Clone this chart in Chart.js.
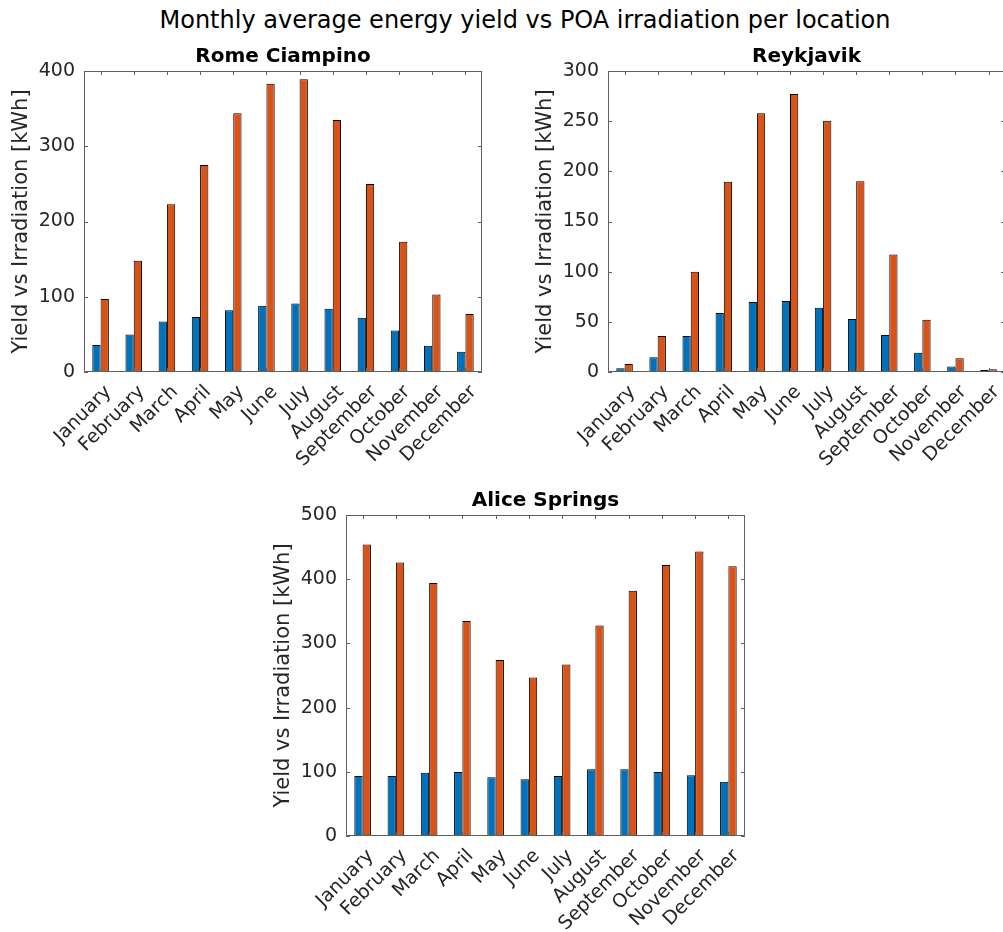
<!DOCTYPE html>
<html>
<head>
<meta charset="utf-8">
<title>Monthly average energy yield vs POA irradiation per location</title>
<script src="https://cdn.jsdelivr.net/npm/chart.js@4.4.1/dist/chart.umd.min.js"></script>
<style>
  html, body { margin: 0; padding: 0; background: #fff; overflow: hidden; }
  body { width: 1003px; height: 932px; position: relative; }
  #suptitle {
    position: absolute; left: 0; top: 8px; width: 1050px;
    text-align: center; font: 24px/24px "DejaVu Sans", sans-serif; color: #000;
    white-space: nowrap;
  }
  .panel { position: absolute; }
  .panel canvas { display: block; }
</style>
</head>
<body>
<div id="suptitle">Monthly average energy yield vs POA irradiation per location</div>
<div class="panel" id="p1" style="left:0px; top:0px;"><canvas id="c1" width="500" height="470"></canvas></div>
<div class="panel" id="p2" style="left:524px; top:0px;"><canvas id="c2" width="490" height="470"></canvas></div>
<div class="panel" id="p3" style="left:262px; top:440px;"><canvas id="c3" width="500" height="492"></canvas></div>

<script>
// Month names on the category axis
const months = ['January', 'February', 'March', 'April', 'May', 'June',
                'July', 'August', 'September', 'October', 'November', 'December'];

// Rome Ciampino: monthly energy yield and POA irradiation [kWh]
const romeYield = [36, 50, 67, 73, 82, 88, 91, 84, 72, 55, 35, 27];
const romeIrradiation = [97, 148, 223, 275, 344, 383, 389, 335, 250, 173, 103, 77];

// Reykjavik
const reykjavikYield = [3.7, 14.6, 35.8, 58.7, 69.7, 70.7, 64, 52.8, 36.8, 19.3, 5.6, 2];
const reykjavikIrradiation = [8, 36, 100, 189.5, 258, 277, 250.5, 190, 117, 52, 13.6, 2.7];

// Alice Springs
const aliceYield = [93.5, 93.5, 98.7, 99.7, 91.4, 88.3, 93.5, 103.8, 103.8, 99.7, 94.5, 84.6];
const aliceIrradiation = [454, 426, 394, 335, 274, 247, 267, 328, 382, 422, 443, 420];

// Y-axis ticks per panel
const romeTicks = [0, 100, 200, 300, 400];
const reykjavikTicks = [0, 50, 100, 150, 200, 250, 300];
const aliceTicks = [0, 100, 200, 300, 400, 500];

const yieldColor = '#0072BD';
const irradiationColor = '#D95319';
const axisColor = '#5f5f5f';
const textColor = '#262626';

// Boxed axes with inward tick marks on all four sides, plus the panel title
const framePlugin = {
  id: 'frame',
  afterDatasetsDraw(chart, args, opts) {
    const { ctx, chartArea: a, scales: { x, y } } = chart;
    ctx.save();
    ctx.strokeStyle = axisColor;
    ctx.lineWidth = 1;
    ctx.beginPath();
    ctx.rect(a.left + 0.5, a.top + 0.5, a.right - a.left - 1, a.bottom - a.top - 1);
    ctx.stroke();

    const len = 4;
    ctx.beginPath();
    x.ticks.forEach((t, i) => {
      const px = Math.round(x.getPixelForTick(i)) + 0.5;
      ctx.moveTo(px, a.bottom); ctx.lineTo(px, a.bottom - len);
      ctx.moveTo(px, a.top); ctx.lineTo(px, a.top + len);
    });
    y.ticks.forEach((t, i) => {
      const py = Math.round(y.getPixelForTick(i)) + 0.5;
      ctx.moveTo(a.left, py); ctx.lineTo(a.left + len, py);
      ctx.moveTo(a.right, py); ctx.lineTo(a.right - len, py);
    });
    ctx.stroke();

    ctx.fillStyle = '#000';
    ctx.font = 'bold 20px "DejaVu Sans"';
    ctx.textAlign = 'center';
    ctx.textBaseline = 'alphabetic';
    ctx.fillText(opts.text, (a.left + a.right) / 2, a.top - 9);
    ctx.restore();
  }
};

function makePanel(canvasId, title, yieldData, irrData, yTicks, pad, yWidth, xHeight) {
  const yMax = yTicks[yTicks.length - 1];
  const step = yTicks[1] - yTicks[0];
  return new Chart(document.getElementById(canvasId), {
    type: 'bar',
    data: {
      labels: months,
      datasets: [
        { label: 'Energy yield', data: yieldData, backgroundColor: yieldColor,
          borderColor: '#000', borderWidth: 1, borderSkipped: false },
        { label: 'POA irradiation', data: irrData, backgroundColor: irradiationColor,
          borderColor: '#000', borderWidth: 1, borderSkipped: false }
      ]
    },
    options: {
      responsive: false,
      animation: false,
      events: [],
      layout: { padding: pad },
      datasets: { bar: { categoryPercentage: 0.5, barPercentage: 1.0 } },
      plugins: {
        legend: { display: false },
        tooltip: { enabled: false },
        title: { display: false },
        frame: { text: title }
      },
      scales: {
        x: {
          grid: { display: false, drawTicks: false },
          border: { display: false },
          ticks: {
            color: textColor,
            font: { family: 'DejaVu Sans', size: 19 },
            minRotation: 45, maxRotation: 45,
            padding: 9,
            labelOffset: 8,
            autoSkip: false
          },
          afterFit(scale) { scale.height = xHeight; }
        },
        y: {
          min: 0, max: yMax,
          grid: { display: false, drawTicks: false },
          border: { display: false },
          ticks: {
            stepSize: step,
            color: textColor,
            font: { family: 'DejaVu Sans', size: 19 },
            padding: 9
          },
          title: {
            display: true,
            text: 'Yield vs Irradiation [kWh]',
            color: textColor,
            font: { family: 'DejaVu Sans', size: 21 },
            padding: { top: 9.4, bottom: 0 }
          },
          afterFit(scale) { scale.width = yWidth; }
        }
      }
    },
    plugins: [framePlugin]
  });
}

makePanel('c1', 'Rome Ciampino', romeYield, romeIrradiation, romeTicks,
  { top: 71, left: 0, right: 18, bottom: 0 }, 84, 98);
makePanel('c2', 'Reykjavik', reykjavikYield, reykjavikIrradiation, reykjavikTicks,
  { top: 71, left: 0, right: 8, bottom: 0 }, 84, 98);
makePanel('c3', 'Alice Springs', aliceYield, aliceIrradiation, aliceTicks,
  { top: 75, left: 0, right: 17, bottom: 0 }, 84, 96);
</script>
</body>
</html>
